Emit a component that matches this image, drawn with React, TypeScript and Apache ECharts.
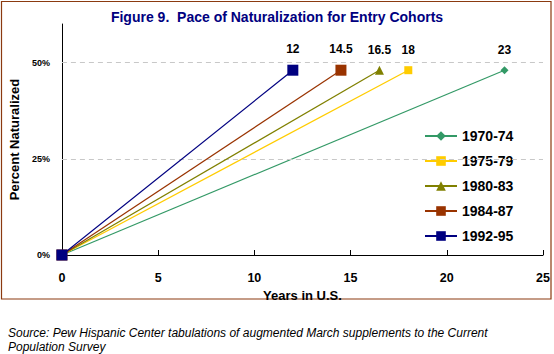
import React, { useEffect, useRef } from "react";
import * as echarts from "echarts";

const cohorts = ["1970-74", "1975-79", "1980-83", "1984-87", "1992-95"];
const yearsToNaturalize = [23, 18, 16.5, 14.5, 12];
const pctNaturalized = [48, 48, 48, 48, 48];
const startYears = [0, 0, 0, 0, 0];
const startPct = [0, 0, 0, 0, 0];
const yTicks = [0, 25, 50];
const gridValues = [25, 50];

const colors = ["#339966", "#FFCC00", "#808000", "#993300", "#000080"];
const symbols = ["diamond", "rect", "triangle", "rect", "rect"];
const symbolSizes = [8, 8, 9, 11, 11];

const FONT = "Arial, 'Liberation Sans', sans-serif";

export default function App() {
  const ref = useRef<HTMLDivElement>(null);
  useEffect(() => {
    document.body.style.margin = "0";
    if (!ref.current) return;
    const chart = echarts.init(ref.current, undefined, { renderer: "svg" });
    const series: any[] = cohorts.map((name, i) => ({
      name,
      type: "line",
      color: colors[i],
      symbol: symbols[i],
      symbolSize: symbolSizes[i],
      showAllSymbol: true,
      lineStyle: { width: 1.2, color: colors[i] },
      itemStyle: { color: colors[i] },
      z: 3 + i,
      data: [
        [startYears[i], startPct[i]],
        {
          value: [yearsToNaturalize[i], pctNaturalized[i]],
          label: {
            show: true,
            position: "top",
            distance: 10,
            formatter: String(yearsToNaturalize[i]),
            color: "#000",
            fontSize: 12,
            fontWeight: "bold",
            fontFamily: FONT,
          },
        },
      ],
    }));
    series[0].markLine = {
      silent: true,
      symbol: "none",
      label: { show: false },
      lineStyle: { type: [5, 4], color: "#c8c8c8", width: 1 },
      data: gridValues.map((v) => ({ yAxis: v })),
    };
    chart.setOption({
      animation: false,
      textStyle: { fontFamily: FONT },
      title: {
        text: "Figure 9.  Pace of Naturalization for Entry Cohorts",
        left: "center",
        top: 5,
        textStyle: { color: "#000080", fontSize: 14, fontWeight: "bold", fontFamily: FONT },
      },
      grid: { left: 55, right: 11, top: 24, bottom: 99 },
      legend: {
        orient: "vertical",
        left: 419,
        top: 124,
        itemWidth: 32,
        itemHeight: 12,
        itemGap: 11,
        data: cohorts,
        textStyle: { fontSize: 14, fontWeight: "bold", color: "#000", fontFamily: FONT },
      },
      xAxis: {
        type: "value",
        min: 0,
        max: 25,
        interval: 5,
        name: "Years in U.S.",
        nameLocation: "middle",
        nameGap: 23,
        nameTextStyle: { fontSize: 13, fontWeight: "bold", color: "#000", fontFamily: FONT },
        axisLine: { lineStyle: { color: "#000", width: 1 } },
        axisTick: { show: true, inside: true, length: 5, lineStyle: { color: "#000" } },
        axisLabel: { fontSize: 12.5, fontWeight: "bold", color: "#000", margin: 16, fontFamily: FONT },
        splitLine: { show: false },
      },
      yAxis: {
        type: "value",
        min: 0,
        max: 60,
        interval: 25,
        name: "Percent Naturalized",
        nameLocation: "middle",
        nameGap: 35,
        nameTextStyle: { fontSize: 13, fontWeight: "bold", color: "#000", fontFamily: FONT },
        axisLine: { show: true, lineStyle: { color: "#000", width: 1 } },
        axisTick: { show: false },
        axisLabel: {
          fontSize: 9,
          fontWeight: "bold",
          color: "#000",
          margin: 12,
          fontFamily: FONT,
          formatter: (v: number) => (yTicks.includes(v) ? v + "%" : ""),
        },
        splitLine: { show: false },
      },
      graphic: [
        {
          type: "rect",
          shape: { x: 1.5, y: 1.5, width: 549.5, height: 297.5 },
          style: { fill: "none", stroke: "#8B3A10", lineWidth: 1.2 },
          silent: true,
        },
        {
          type: "text",
          left: 8,
          top: 326,
          style: {
            text: "Source: Pew Hispanic Center tabulations of augmented March supplements to the Current\nPopulation Survey",
            fontSize: 12,
            fontStyle: "italic",
            lineHeight: 14,
            fill: "#000",
            fontFamily: FONT,
          },
        },
      ],
      series,
    });
    return () => chart.dispose();
  }, []);
  return <div ref={ref} style={{ width: 554, height: 354 }} />;
}
